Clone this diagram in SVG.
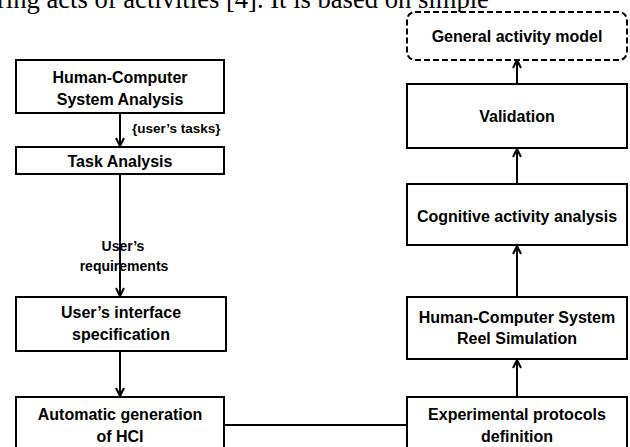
<svg xmlns="http://www.w3.org/2000/svg" width="630" height="447" viewBox="0 0 630 447">
<style>
.box{fill:#fff;stroke:#000;stroke-width:2}
.dash{fill:#fff;stroke:#000;stroke-width:2;stroke-dasharray:6 3}
.t{font-family:"Liberation Sans",Arial,sans-serif;font-weight:bold;font-size:16px;text-anchor:middle;fill:#000}
.lbl{font-family:"Liberation Sans",Arial,sans-serif;font-weight:bold;font-size:13.5px;fill:#000}
.line{fill:none;stroke:#000;stroke-width:2}
.prose{font-family:"Liberation Serif","Times New Roman",serif;font-size:26.6px;fill:#000}
</style>
<defs>
<marker id="arr" viewBox="0 0 10 10" refX="9" refY="5" markerWidth="10" markerHeight="10" markerUnits="userSpaceOnUse" orient="auto">
<path d="M1,1 L9,5 L1,9" fill="none" stroke="#000" stroke-width="2"/>
</marker>
</defs>
<text class="prose" x="-3" y="8">ring acts of activities [4]. It is based on simple</text>

<g id="connectors">
<line class="line" x1="120" y1="113" x2="120" y2="146" marker-end="url(#arr)"/>
<line class="line" x1="120" y1="174" x2="120" y2="296" marker-end="url(#arr)"/>
<line class="line" x1="120" y1="351" x2="120" y2="396" marker-end="url(#arr)"/>
<line class="line" x1="224" y1="425" x2="407" y2="425" stroke="#444"/>
<line class="line" x1="517" y1="397" x2="517" y2="360" marker-end="url(#arr)"/>
<line class="line" x1="517" y1="297" x2="517" y2="246" marker-end="url(#arr)"/>
<line class="line" x1="517" y1="184" x2="517" y2="149" marker-end="url(#arr)"/>
<line class="line" x1="517" y1="84" x2="517" y2="60" marker-end="url(#arr)"/>
<text class="lbl" x="132" y="133">{user’s tasks}</text>
<text class="lbl" x="123" y="251" text-anchor="middle" style="font-size:14px">User’s</text>
<text class="lbl" x="124" y="271" text-anchor="middle" style="font-size:14px">requirements</text>
</g>

<g id="hcs-analysis">
<rect class="box" x="16" y="60" width="208" height="53"/>
<text class="t" x="120" y="83">Human-Computer</text>
<text class="t" x="120" y="105">System Analysis</text>
</g>
<g id="task-analysis">
<rect class="box" x="16" y="147" width="208" height="27"/>
<text class="t" x="120" y="167">Task Analysis</text>
</g>
<g id="ui-spec">
<rect class="box" x="16" y="297" width="210" height="54"/>
<text class="t" x="121" y="318">User’s interface</text>
<text class="t" x="121" y="340">specification</text>
</g>
<g id="auto-gen">
<rect class="box" x="16" y="397" width="208" height="60"/>
<text class="t" x="120" y="420">Automatic generation</text>
<text class="t" x="120" y="442">of HCI</text>
</g>

<g id="general-model">
<rect class="dash" x="407" y="12" width="220" height="48" rx="8"/>
<text class="t" x="517" y="42">General activity model</text>
</g>
<g id="validation">
<rect class="box" x="407" y="84" width="220" height="64"/>
<text class="t" x="517" y="122">Validation</text>
</g>
<g id="cognitive">
<rect class="box" x="407" y="184" width="220" height="61"/>
<text class="t" x="517" y="222">Cognitive activity analysis</text>
</g>
<g id="reel-sim">
<rect class="box" x="407" y="297" width="220" height="62"/>
<text class="t" x="517" y="323">Human-Computer System</text>
<text class="t" x="517" y="344">Reel Simulation</text>
</g>
<g id="protocols">
<rect class="box" x="407" y="397" width="220" height="60"/>
<text class="t" x="517" y="420">Experimental protocols</text>
<text class="t" x="517" y="442">definition</text>
</g>
</svg>
